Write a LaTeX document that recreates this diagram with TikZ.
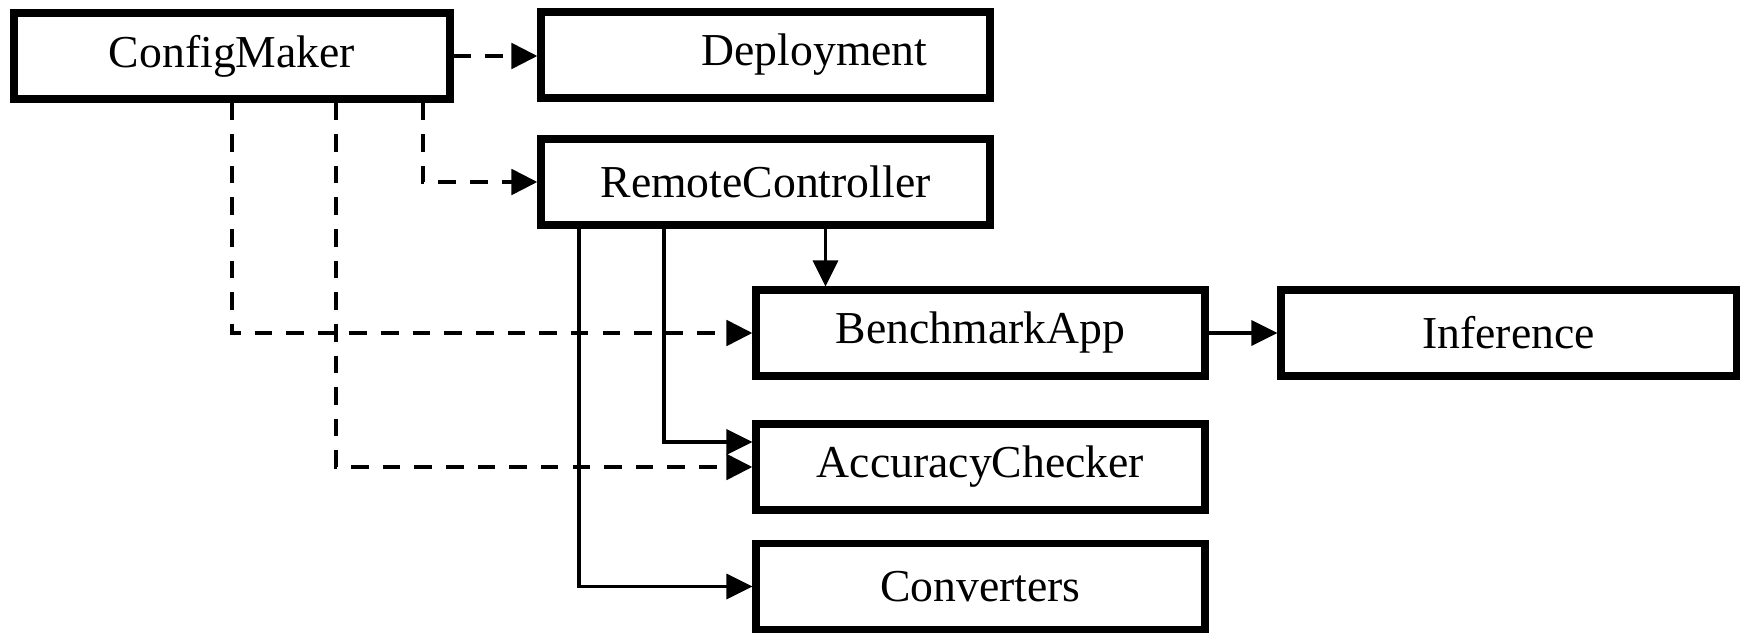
\documentclass[tikz,border=0pt]{standalone}
\usepackage{fontspec}
\setmainfont{Liberation Serif}
\usetikzlibrary{arrows.meta}
\begin{document}
\begin{tikzpicture}[
        box/.style={draw, line width=2pt, minimum width=4.49cm, minimum height=0.86cm, inner sep=0pt, font=\fontsize{13}{15}\selectfont},
        uses/.style={line width=1pt, -{Triangle[length=0.26cm,width=0.25cm]}},
        cfg/.style={uses, line width=1.4pt, dash pattern=on 5pt off 4pt}
    ]
        \useasboundingbox (0,0) rectangle (17.46,-6.41);
        \node[box, minimum width=4.36cm] (cm) at (2.32,-0.56) {ConfigMaker};
        \node[box, label={[font=\fontsize{13}{15}\selectfont, xshift=0.49cm]center:Deployment}] (dep) at (7.655,-0.55) {};
        \node[box] (rc) at (7.655,-1.82) {RemoteController};
        \node[box] (ba) at (9.805,-3.33) {BenchmarkApp};
        \node[box, minimum width=4.55cm] (inf) at (15.085,-3.33) {Inference};
        \node[box] (ac) at (9.805,-4.67) {AccuracyChecker};
        \node[box] (conv) at (9.805,-5.865) {Converters};
        % ConfigMaker
        \draw[cfg] (cm.east) -- (cm.east -| dep.west);
        \draw[cfg] ([xshift=1.91cm]cm.south) |- (rc.west);
        \draw[cfg] (cm.south) |- (ba.west);
        \draw[cfg] ([xshift=1.04cm]cm.south) |- (ac.west);
        % RemoteController
        \draw[uses] ([xshift=0.6cm]rc.south) -- ([xshift=0.6cm]rc.south |- ba.north);
        \draw[uses] ([xshift=-1.015cm]rc.south) |- ([yshift=0.25cm]ac.west);
        \draw[uses] ([xshift=-1.865cm]rc.south) |- (conv.west);
        \draw[uses] (ba.east) -- (inf.west);
    \end{tikzpicture}
\end{document}
